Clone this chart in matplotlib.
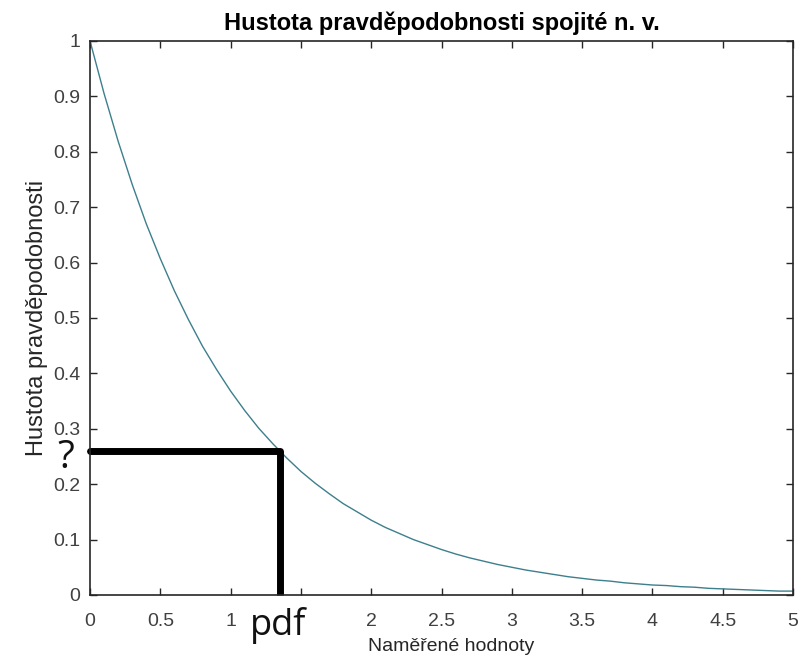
import matplotlib
matplotlib.use("Agg")
import matplotlib.pyplot as plt

# values
x_vals = [0.0, 0.1, 0.2, 0.3, 0.4, 0.5, 0.6, 0.7, 0.8, 0.9,
          1.0, 1.1, 1.2, 1.3, 1.4, 1.5, 1.6, 1.7, 1.8, 1.9,
          2.0, 2.1, 2.2, 2.3, 2.4, 2.5, 2.6, 2.7, 2.8, 2.9,
          3.0, 3.1, 3.2, 3.3, 3.4, 3.5, 3.6, 3.7, 3.8, 3.9,
          4.0, 4.1, 4.2, 4.3, 4.4, 4.5, 4.6, 4.7, 4.8, 4.9, 5.0]
pdf_vals = [1.000, 0.905, 0.819, 0.741, 0.670, 0.607, 0.549, 0.497, 0.449, 0.407,
            0.368, 0.333, 0.301, 0.273, 0.247, 0.223, 0.202, 0.183, 0.165, 0.150,
            0.135, 0.122, 0.111, 0.100, 0.091, 0.082, 0.074, 0.067, 0.061, 0.055,
            0.050, 0.045, 0.041, 0.037, 0.033, 0.030, 0.027, 0.025, 0.022, 0.020,
            0.018, 0.017, 0.015, 0.014, 0.012, 0.011, 0.010, 0.009, 0.008, 0.007, 0.007]

# highlighted point
point_x = 1.35
point_y = 0.259

x_ticks = [0, 0.5, 1, 1.5, 2, 2.5, 3, 3.5, 4, 4.5, 5]
x_tick_labels = ["0", "0.5", "1", "", "2", "2.5", "3", "3.5", "4", "4.5", "5"]
y_ticks = [0, 0.1, 0.2, 0.3, 0.4, 0.5, 0.6, 0.7, 0.8, 0.9, 1]
y_tick_labels = ["0", "0.1", "0.2", "0.3", "0.4", "0.5", "0.6", "0.7", "0.8", "0.9", "1"]

plt.rcParams["font.family"] = ["Liberation Sans", "DejaVu Sans"]

fig = plt.figure(figsize=(8.06, 6.63), dpi=100)
ax = fig.add_axes([0.1117, 0.1026, 0.8722, 0.8356])

ax.plot(x_vals, pdf_vals, color="#3d7f8c", linewidth=1.0)

# black guide lines
ax.plot([0, point_x], [point_y, point_y], color="black", linewidth=5,
        solid_capstyle="round", clip_on=False)
ax.plot([point_x, point_x], [0, point_y], color="black", linewidth=5,
        solid_capstyle="butt", clip_on=False)

ax.text(-0.175, 0.248, "?", fontsize=28, family="Open Sans",
        ha="center", va="center", color="#111111")
ax.text(point_x - 0.01, -0.055, "pdf", fontsize=26, family="Open Sans",
        ha="center", va="center", color="#111111")

ax.set_xlim(0, 5)
ax.set_ylim(0, 1)
ax.set_xticks(x_ticks)
ax.set_xticklabels(x_tick_labels)
ax.set_yticks(y_ticks)
ax.set_yticklabels(y_tick_labels)
ax.tick_params(direction="in", top=True, right=True, length=5, width=1,
               labelsize=14, labelcolor="#404040", colors="#262626", pad=7)
ax.tick_params(axis="x", pad=13)
for s in ax.spines.values():
    s.set_color("#262626")
    s.set_linewidth(1.2)

ax.set_title("Hustota pravděpodobnosti spojité n. v.", fontsize=17,
             fontweight="bold", pad=8)
ax.set_xlabel("Naměřené hodnoty", fontsize=14, color="#262626")
ax.xaxis.set_label_coords(0.5135, -0.078)
ax.set_ylabel("Hustota pravděpodobnosti", fontsize=17, color="#262626", labelpad=4)

fig.savefig("out.png", dpi=100)
